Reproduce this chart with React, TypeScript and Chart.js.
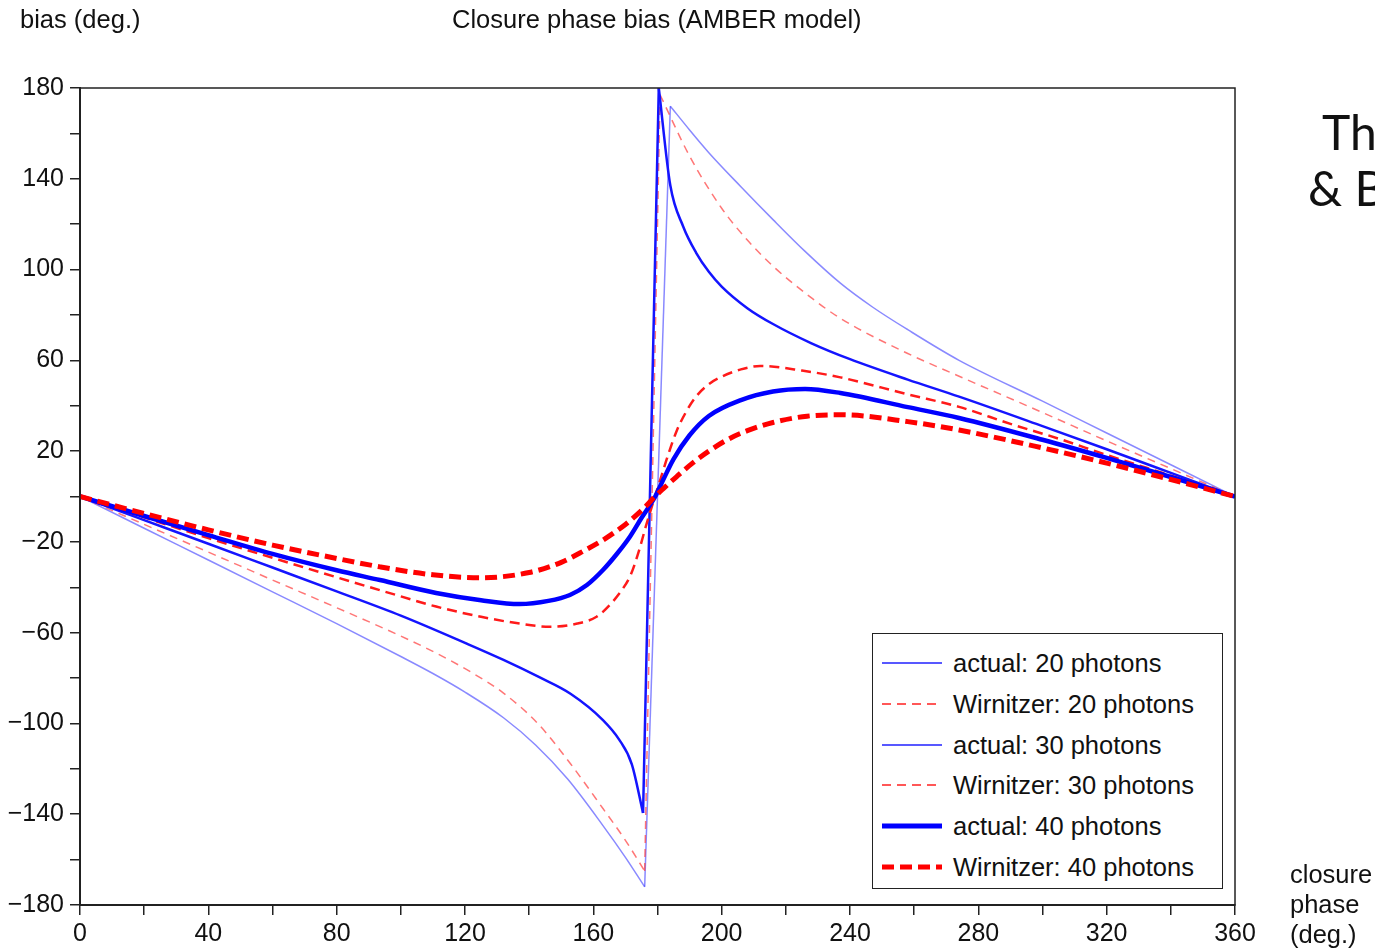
import React, { useEffect, useRef } from 'react';
import { Chart, registerables } from 'chart.js';

Chart.register(...registerables);

const FONT = '"Liberation Sans", Arial, Helvetica, sans-serif';

// ---- data (closure phase in degrees -> bias in degrees) ----
const actual20X = [0, 20, 40, 60, 80, 100, 110, 120, 132, 142, 152, 163, 170, 176, 184, 190, 196, 206, 216, 226, 237, 247, 258, 274, 300, 320, 340, 360];
const actual20Y = [0, -14, -28, -42, -56, -70.5, -78, -86.2, -97.5, -109.5, -124.5, -145, -159, -172, 172, 161.5, 151.5, 136.5, 122, 108, 94, 83.5, 73.5, 60, 42, 28, 14, 0];

const wirn20X = [0, 20, 40, 60, 80, 100, 111, 122, 132, 143, 153, 163, 170, 176, 180.8, 190, 200, 208, 216, 228, 237, 258, 274, 300, 320, 340, 360];
const wirn20Y = [0, -12.3, -24.5, -36.8, -49, -61.5, -69, -77.5, -86.6, -100.5, -118, -137.5, -151.5, -165, 177, 150, 127, 113, 101.5, 87.5, 78.5, 63, 53, 37, 24.5, 12.3, 0];

const actual30X = [0, 20, 40, 60, 80, 100, 120, 132, 143, 153, 163, 168, 172, 175.5, 180.4, 184, 188, 192, 196, 200, 208, 216, 228, 240, 258, 274, 300, 320, 340, 360];
const actual30Y = [0, -10.4, -20.8, -31.3, -41.8, -52.5, -64.5, -72, -79.5, -87, -98.5, -107, -118, -139.5, 180, 137, 119, 107.5, 99, 92.5, 83, 76, 67.5, 60.5, 51.5, 44, 31, 20.8, 10.4, 0];

const wirn30X = [0, 20, 40, 60, 80, 100, 111, 125, 137, 146.5, 155, 161, 165, 169, 171.5, 174, 176.5, 179.2, 181, 183, 186, 189, 192, 196, 200, 206, 212, 225, 237, 258, 274, 290, 305, 320, 340, 360];
const wirn30Y = [0, -9.2, -18.3, -27, -35.6, -44, -48.5, -53, -56, -57.4, -56, -53, -48, -41, -35, -25, -12.5, 0, 8, 17, 29, 37.5, 44, 49.5, 52.8, 56, 57.5, 55.5, 52.5, 45, 39.5, 32, 25.5, 18.3, 9.2, 0];

const actual40X = [0, 20, 40, 60, 80, 93.5, 111, 125, 137, 146, 152.7, 158, 163, 167.5, 171.4, 175, 177.7, 179.3, 182, 185, 190, 196, 206, 216, 226, 237, 258, 274, 300, 320, 340, 360];
const actual40Y = [0, -8.6, -17, -25.3, -32.5, -36.8, -42.5, -45.7, -47.4, -46, -43.4, -39, -32.4, -25, -17.7, -9.5, -3.7, 0, 8, 16.5, 27, 35.5, 42.5, 46.3, 47.4, 45.6, 39.4, 34.6, 25, 17, 8.6, 0];

const wirn40X = [0, 20, 40, 60, 80, 93.5, 110, 125, 140, 150, 157, 163, 170, 173.6, 176.5, 179.2, 182, 186, 191, 196, 202, 208, 216, 226.6, 237, 258, 274, 300, 320, 340, 360];
const wirn40Y = [0, -7.5, -14.7, -21.4, -27.3, -31, -34.5, -35.8, -33.5, -29, -24, -19.2, -12.3, -8, -4.1, 0, 3.7, 8.8, 14.8, 20, 25.2, 29, 32.6, 35.4, 36, 33, 29.3, 21.4, 14.7, 7.5, 0];

const seriesLabels = [
  'actual: 20 photons',
  'Wirnitzer: 20 photons',
  'actual: 30 photons',
  'Wirnitzer: 30 photons',
  'actual: 40 photons',
  'Wirnitzer: 40 photons',
];

const titleText = 'Closure phase bias (AMBER model)';
const yAxisTitle = 'bias (deg.)';
const xAxisTitleLines = ['closure', 'phase', '(deg.)'];

// ---- styles ----
const plotStyles = [
  { color: 'rgba(40,40,255,0.55)', width: 1.5, dash: [] as number[], spike: true },
  { color: 'rgba(255,60,60,0.7)', width: 1.5, dash: [8, 6], spike: true },
  { color: '#1414ff', width: 2.5, dash: [] as number[], spike: true },
  { color: '#ff1a1a', width: 2.5, dash: [10, 6], spike: false },
  { color: '#0000ff', width: 4.5, dash: [] as number[], spike: false },
  { color: '#ff0000', width: 5, dash: [12, 6], spike: false },
];
const legendStyles = [
  { color: '#2020ff', width: 1.5, dash: '' },
  { color: '#ff2020', width: 1.5, dash: '9 6' },
  { color: '#2020ff', width: 1.5, dash: '' },
  { color: '#ff2020', width: 1.5, dash: '9 6' },
  { color: '#0000ff', width: 5, dash: '' },
  { color: '#ff0000', width: 5, dash: '12 6' },
];

const toPts = (xs: number[], ys: number[]) => xs.map((x, i) => ({ x, y: ys[i] }));
const fmt = (v: number) => (v < 0 ? '\u2212' + Math.abs(v) : String(v));

// split a series at its phase-wrap jump so the spike tips stay sharp
function splitAtJump(xs: number[], ys: number[]) {
  let best = 0;
  let bi = 0;
  for (let i = 0; i < ys.length - 1; i++) {
    const d = Math.abs(ys[i + 1] - ys[i]);
    if (d > best) { best = d; bi = i; }
  }
  const pts = toPts(xs, ys);
  return [pts.slice(0, bi + 1), pts.slice(bi, bi + 2), pts.slice(bi + 1)];
}

const framePlugin = {
  id: 'frame',
  afterDraw(chart: any) {
    const { ctx, chartArea: a } = chart;
    ctx.save();
    ctx.strokeStyle = '#222';
    ctx.lineWidth = 1.5;
    ctx.strokeRect(a.left, a.top, a.right - a.left, a.bottom - a.top);
    ctx.restore();
  },
};

export default function App() {
  const ref = useRef<HTMLCanvasElement | null>(null);

  useEffect(() => {
    if (!ref.current) return;
    const sets = [
      [actual20X, actual20Y],
      [wirn20X, wirn20Y],
      [actual30X, actual30Y],
      [wirn30X, wirn30Y],
      [actual40X, actual40Y],
      [wirn40X, wirn40Y],
    ];
    const datasets: any[] = [];
    sets.forEach(([xs, ys], i) => {
      const st = plotStyles[i];
      const parts = st.spike ? splitAtJump(xs, ys) : [toPts(xs, ys)];
      parts.forEach((data, k) => {
        datasets.push({
          label: k === 0 ? seriesLabels[i] : seriesLabels[i] + ' (' + k + ')',
          data,
          borderColor: st.color,
          borderWidth: st.width,
          borderDash: st.dash,
          pointRadius: 0,
          fill: false,
          cubicInterpolationMode: 'monotone',
          order: 6 - i,
        });
      });
    });

    const chart = new Chart(ref.current, {
      type: 'line',
      data: { datasets },
      options: {
        animation: false,
        responsive: false,
        maintainAspectRatio: false,
        parsing: false as any,
        layout: { padding: { top: 88, right: 140, left: 0, bottom: 0 } },
        plugins: {
          legend: { display: false },
          tooltip: { enabled: false },
          title: { display: false },
        },
        scales: {
          x: {
            type: 'linear',
            min: 0,
            max: 360,
            border: { display: true, color: '#222', width: 2 },
            grid: { drawOnChartArea: false, drawTicks: true, tickLength: 10, color: '#222', lineWidth: 1.5 },
            ticks: {
              stepSize: 20,
              autoSkip: false,
              maxRotation: 0,
              padding: 4,
              color: '#111',
              font: { family: FONT, size: 25 },
              callback: (v: any) => (Number(v) % 40 === 0 ? String(v) : ''),
            },
            afterFit: (s: any) => { s.height = 46; },
          },
          y: {
            type: 'linear',
            min: -180,
            max: 180,
            border: { display: true, color: '#222', width: 2 },
            grid: { drawOnChartArea: false, drawTicks: true, tickLength: 10, color: '#222', lineWidth: 1.5 },
            ticks: {
              stepSize: 20,
              autoSkip: false,
              padding: 6,
              color: '#111',
              font: { family: FONT, size: 25 },
              callback: (v: any) => ((180 - Number(v)) % 40 === 0 ? fmt(Number(v)) : ''),
            },
            afterFit: (s: any) => { s.width = 80; },
          },
        },
      },
      plugins: [framePlugin],
    });
    return () => chart.destroy();
  }, []);

  const textStyle: React.CSSProperties = {
    position: 'absolute',
    fontFamily: FONT,
    fontSize: 25.5,
    color: '#111',
    whiteSpace: 'nowrap',
    lineHeight: '26px',
  };

  return (
    <div style={{ position: 'absolute', left: 0, top: 0, width: 1375, height: 951, overflow: 'hidden', background: '#fff' }}>
      <canvas ref={ref} width={1375} height={951} style={{ position: 'absolute', left: 0, top: 0, width: 1375, height: 951 }} />
      <div style={{ ...textStyle, left: 20, top: 6 }}>{yAxisTitle}</div>
      <div style={{ ...textStyle, left: 452, top: 6 }}>{titleText}</div>
      <div style={{ ...textStyle, left: 1290, top: 859, lineHeight: '30px' }}>
        {xAxisTitleLines.map((l) => (
          <div key={l}>{l}</div>
        ))}
      </div>
      <div style={{ position: 'absolute', left: 1322, top: 108, fontFamily: 'Lato, "Noto Sans", sans-serif', fontSize: 48, lineHeight: '48px', color: '#111', whiteSpace: 'nowrap' }}>Th</div>
      <div style={{ position: 'absolute', left: 1308, top: 164, fontFamily: 'Lato, "Noto Sans", sans-serif', fontSize: 48, lineHeight: '48px', color: '#111', whiteSpace: 'nowrap' }}>&amp; B</div>
      <div
        style={{
          position: 'absolute',
          left: 872,
          top: 633,
          width: 349,
          height: 254,
          border: '1.5px solid #222',
          background: '#fff',
        }}
      >
        {seriesLabels.map((lab, i) => (
          <div key={lab} style={{ position: 'absolute', left: 0, top: 9 + i * 40.8, height: 40, width: 349 }}>
            <svg width={64} height={40} style={{ position: 'absolute', left: 8, top: 0 }}>
              <line
                x1={1}
                y1={20}
                x2={61}
                y2={20}
                stroke={legendStyles[i].color}
                strokeWidth={legendStyles[i].width}
                strokeDasharray={legendStyles[i].dash || undefined}
              />
            </svg>
            <div style={{ ...textStyle, left: 80, top: 7 }}>{lab}</div>
          </div>
        ))}
      </div>
    </div>
  );
}
